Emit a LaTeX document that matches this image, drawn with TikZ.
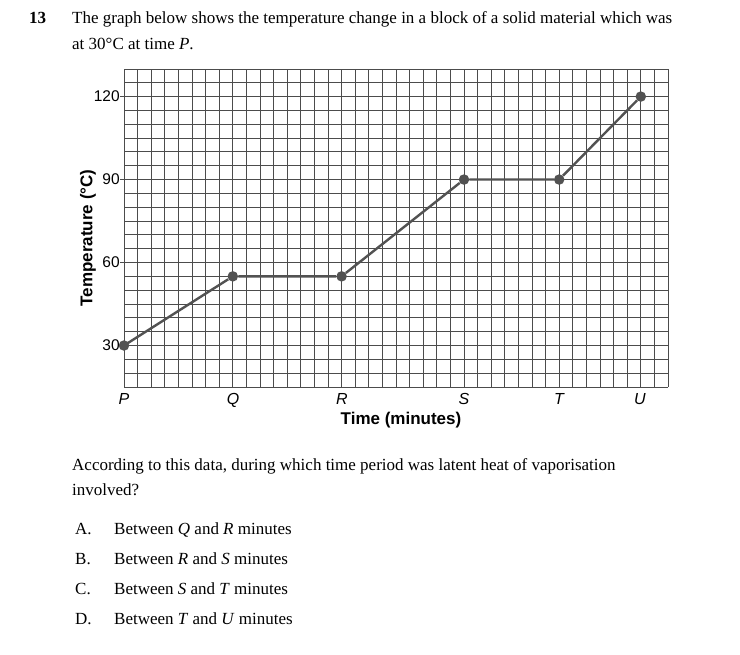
\documentclass[tikz,border=0pt]{standalone}
\usepackage{fontspec}
\setmainfont{Liberation Serif}
\newfontfamily\axisfont{Liberation Sans}
\begin{document}
\begin{tikzpicture}[x=1pt,y=-1pt,
  txt/.style={anchor=base west,inner sep=0pt,font=\fontsize{17}{19}\selectfont},
  gridline/.style={draw=gray!60!black,line width=0.8pt},
  curve/.style={draw=black!68,line width=2.4pt},
  dot/.style={circle,fill=black!68,inner sep=0pt,minimum size=10.5pt},
  tick/.style={anchor=east,inner sep=0pt,font=\axisfont\fontsize{15.5}{17}\selectfont},
  letter/.style={anchor=base,inner sep=0pt,font=\axisfont\itshape\fontsize{16}{18}\selectfont},
  axtitle/.style={inner sep=0pt,font=\axisfont\bfseries\fontsize{17}{19}\selectfont}]
\useasboundingbox[fill=white] (0,0) rectangle (740,655);
% question
\node[txt,font=\bfseries\fontsize{17}{19}\selectfont] (num) at (29,24) {13};
\node[txt] (l1) at (72,24) {The graph below shows the temperature change in a block of a solid material which was};
\node[txt] (l2) at (72,50) {at 30°C at time \textit{P}.};
% graph
\begin{scope}[shift={(124,387)},x=13.6pt,y=2.766pt]
  \foreach \i in {0,...,40} \draw[gridline] (\i,0) -- (\i,115);
  \foreach \j in {0,5,...,115} \draw[gridline] (0,\j) -- (40,\j);
  \foreach \v/\t in {15/30,45/60,75/90,105/120}{
    \draw[gridline] (-0.3,\v) -- (0,\v);
    \node[tick] (t\t) at (-0.3,\v) {\t};
  }
  \coordinate (P) at (0,15);
  \node[dot] (Q) at (8,40) {};
  \node[dot] (R) at (16,40) {};
  \node[dot] (S) at (25,75) {};
  \node[dot] (T) at (32,75) {};
  \node[dot] (U) at (38,105) {};
  \draw[curve] (P) -- (Q) -- (R) -- (S) -- (T) -- (U);
  \node[dot] (Pd) at (P) {};
\end{scope}
\node[letter] (lP) at (124,405) {P};
\node[letter] (lQ) at (233,405) {Q};
\node[letter] (lR) at (342,405) {R};
\node[letter] (lS) at (464,405) {S};
\node[letter] (lT) at (559,405) {T};
\node[letter] (lU) at (640,405) {U};
\node[axtitle] (xt) at (401,420) {Time (minutes)};
\node[axtitle,rotate=90] (yt) at (88,238) {Temperature (°C)};
% question part 2
\node[txt] (l3) at (72,471) {According to this data, during which time period was latent heat of vaporisation};
\node[txt] (l4) at (72,496) {involved?};
\node[txt] (oA) at (75,534) {A.};
\node[txt] (tA) at (114,534) {Between \textit{Q} and \textit{R} minutes};
\node[txt] (oB) at (75,564) {B.};
\node[txt] (tB) at (114,564) {Between \textit{R} and \textit{S} minutes};
\node[txt] (oC) at (75,594) {C.};
\node[txt] (tC) at (114,594) {Between \textit{S} and \textit{T} minutes};
\node[txt] (oD) at (75,624) {D.};
\node[txt] (tD) at (114,624) {Between \textit{T} and \textit{U} minutes};
\end{tikzpicture}
\end{document}
